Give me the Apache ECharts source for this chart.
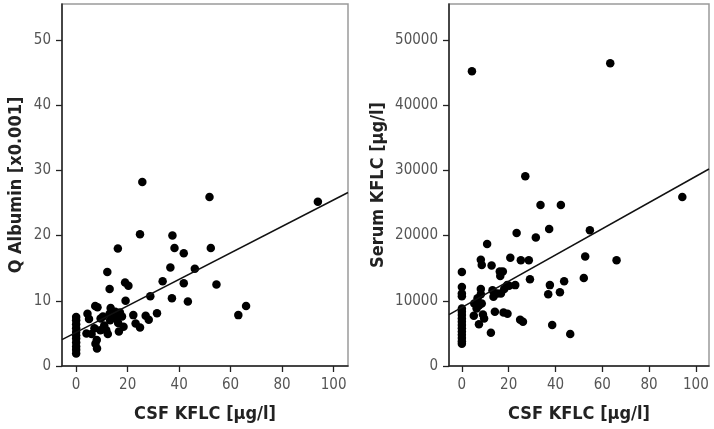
<!DOCTYPE html>
<html>
<head>
<meta charset="utf-8">
<script src="https://cdn.jsdelivr.net/npm/echarts@6/dist/echarts.min.js"></script>
<style>
html,body{margin:0;padding:0;background:#fff;}
#c{width:714px;height:429px;}
</style>
</head>
<body>
<div id="c"></div>
<script>
// ---- data ----
const xTicks = [0, 20, 40, 60, 80, 100];
const yTicksLeft = [0, 10, 20, 30, 40, 50];
const yTicksRight = [0, 10000, 20000, 30000, 40000, 50000];

const xTitle = 'CSF KFLC [µg/l]';
const yTitleLeft = 'Q Albumin [x0.001]';
const yTitleRight = 'Serum KFLC [µg/l]';

// Left panel: CSF KFLC vs Q Albumin
const leftX = [0,0,0,0,0,0,0,0,0,0,0,
  4.4,5.0,7.4,8.3,9.5,4.0,6.0,7.1,8.0,8.1,7.5,9.4,11.7,12.3,13.4,13.0,13.2,15.2,15.8,16.6,16.3,17.8,18.4,10.9,10.4,14.5,17.0,
  12.1,13.0,16.2,19.0,20.3,19.2,22.2,23.1,24.8,28.2,27.0,31.4,28.8,24.8,25.7,33.6,36.6,37.2,37.4,38.2,41.8,41.8,43.4,46.1,51.8,52.3,54.5,63.0,66.0,93.9];
const leftY = [7.5,7.0,6.4,5.8,5.2,4.7,4.2,3.6,3.0,2.5,1.9,
  8.0,7.2,9.2,9.0,7.3,5.0,4.9,5.8,4.0,2.7,3.4,5.5,5.5,4.9,8.9,8.0,7.0,8.3,7.3,5.3,6.6,7.6,6.0,6.2,7.6,7.8,8.2,
  14.4,11.8,18.0,12.8,12.3,10.0,7.8,6.5,5.9,7.1,7.7,8.1,10.7,20.2,28.2,13.0,15.1,10.4,20.0,18.1,17.3,12.7,9.9,14.9,25.9,18.1,12.5,7.8,9.2,25.2];

// Right panel: CSF KFLC vs Serum KFLC
const rightX = [0,0,0,0,0,0,0,0,0,0,0,0,0,0,0,0,
  4.3,63.4,94.2,27.1,33.6,42.3,37.3,54.7,23.4,31.6,10.8,20.7,25.2,28.6,52.7,66.1,8.1,8.5,12.7,16.2,17.5,16.4,29.1,52.1,43.7,37.6,22.8,19.4,36.9,41.9,
  8.1,8.1,6.7,13.1,13.5,15.2,16.7,18.1,20.2,5.3,7.4,8.5,5.1,9.0,9.5,7.3,14.1,17.8,19.5,24.9,26.1,38.6,12.4,46.3,6.3,7.0];
const rightY = [14400,12100,11100,10700,8800,8300,7800,7300,6800,6300,5800,5300,4800,4300,3800,3400,
  45200,46400,25900,29100,24700,24700,21000,20800,20400,19700,18700,16600,16200,16200,16800,16200,16300,15500,15400,14500,14500,13800,13300,13500,13000,12400,12400,12400,11000,11300,
  11800,11000,10400,11600,10600,11100,11100,11800,12300,9600,9300,9600,7700,7900,7300,6400,8300,8200,8000,7100,6800,6300,5100,4900,8800,9600];

// Fit lines (endpoints)
const fitX = [-5.5, 105.6];
const fitLeftY = [4.05, 26.6];
const fitRightY = [7890, 30200];

const xMin = -5.5, xMax = 105.6;
const yMaxLeft = 55.5, yMaxRight = 55500;

// ---- chart ----
const zip = (a, b) => a.map((v, i) => [v, b[i]]);
const FONT = "'Liberation Sans Narrow', 'DejaVu Sans Condensed', 'Liberation Sans', sans-serif";

function xAxisDef(gi) {
  return {
    type: 'value', gridIndex: gi, min: xMin, max: xMax,
    name: xTitle, nameLocation: 'middle', nameGap: 39,
    nameTextStyle: {fontFamily: FONT, fontSize: 18, fontWeight: 'bold', color: '#222'},
    axisLine: {show: true, onZero: false, lineStyle: {color: '#222', width: 1.5}},
    axisTick: {show: true, inside: false, length: 6, lineStyle: {color: '#222', width: 1.3}, customValues: xTicks},
    axisLabel: {margin: 12, fontFamily: FONT, fontSize: 15, color: '#555', customValues: xTicks},
    splitLine: {show: false}
  };
}
function yAxisDef(gi, max, ticks, title, gap) {
  return {
    type: 'value', gridIndex: gi, min: 0, max: max,
    name: title, nameLocation: 'middle', nameGap: gap, nameRotate: 90,
    nameTextStyle: {fontFamily: FONT, fontSize: 18, fontWeight: 'bold', color: '#222'},
    axisLine: {show: true, onZero: false, lineStyle: {color: '#222', width: 1.5}},
    axisTick: {show: true, inside: false, length: 6, lineStyle: {color: '#222', width: 1.3}, customValues: ticks},
    axisLabel: {margin: 11, fontFamily: FONT, fontSize: 15, color: '#555', customValues: ticks, formatter: v => String(v)},
    splitLine: {show: false}
  };
}

const chart = echarts.init(document.getElementById('c'), null, {renderer: 'canvas'});
chart.setOption({
  animation: false,
  backgroundColor: '#fff',
  grid: [
    {left: 62, top: 4, width: 286, height: 362, show: true, borderColor: '#9a9a9a', borderWidth: 1.5, backgroundColor: 'transparent'},
    {left: 449, top: 4, width: 260, height: 362, show: true, borderColor: '#9a9a9a', borderWidth: 1.5, backgroundColor: 'transparent'}
  ],
  xAxis: [xAxisDef(0), xAxisDef(1)],
  yAxis: [
    yAxisDef(0, yMaxLeft, yTicksLeft, yTitleLeft, 37),
    yAxisDef(1, yMaxRight, yTicksRight, yTitleRight, 62)
  ],
  series: [
    {type: 'scatter', xAxisIndex: 0, yAxisIndex: 0, data: zip(leftX, leftY), symbolSize: 8.5, itemStyle: {color: '#000', opacity: 1}},
    {type: 'line', xAxisIndex: 0, yAxisIndex: 0, data: zip(fitX, fitLeftY), showSymbol: false, lineStyle: {color: '#111', width: 1.5}},
    {type: 'scatter', xAxisIndex: 1, yAxisIndex: 1, data: zip(rightX, rightY), symbolSize: 8.5, itemStyle: {color: '#000', opacity: 1}},
    {type: 'line', xAxisIndex: 1, yAxisIndex: 1, data: zip(fitX, fitRightY), showSymbol: false, lineStyle: {color: '#111', width: 1.5}}
  ]
});
</script>
</body>
</html>
